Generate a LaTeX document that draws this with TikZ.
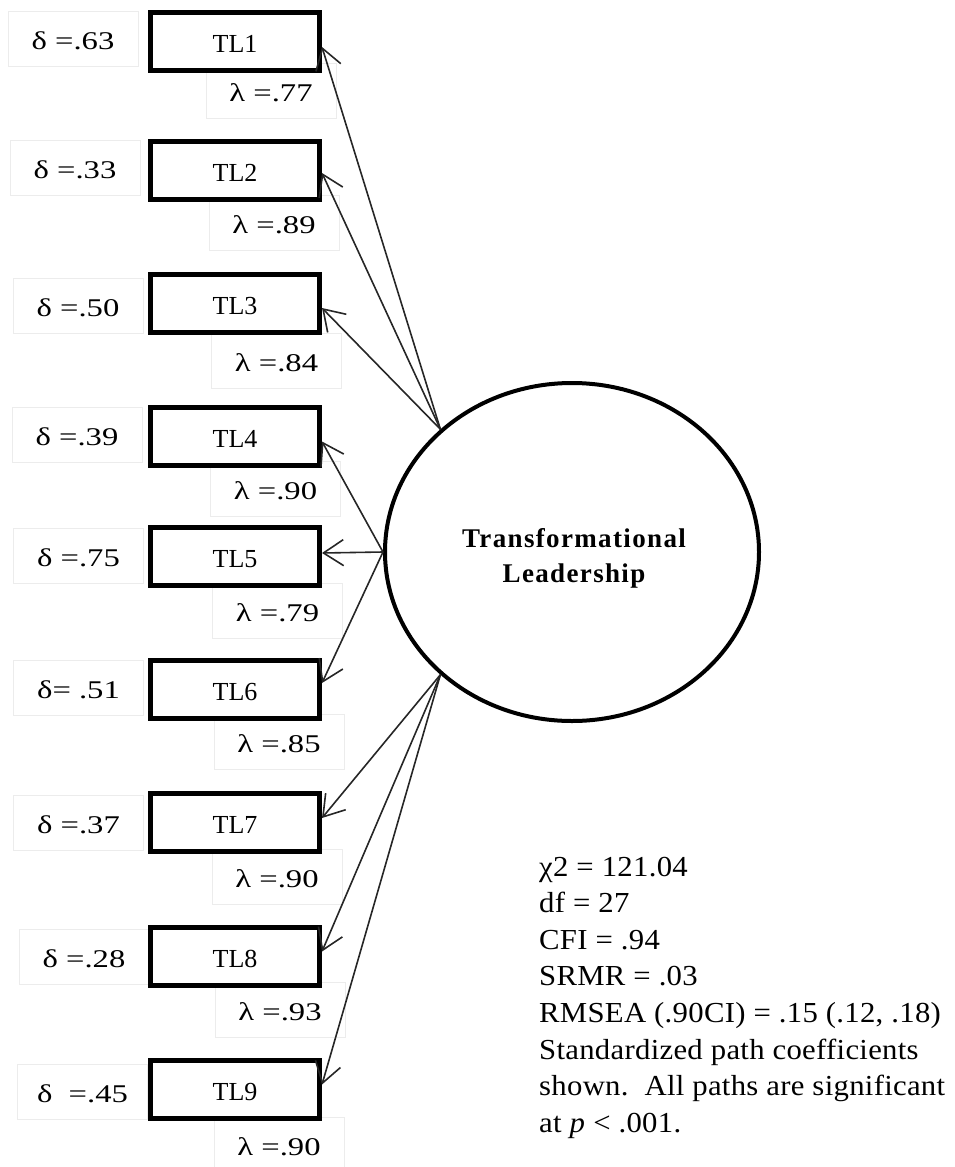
\documentclass[tikz,border=0pt]{standalone}
\usepackage{fontspec}
\setmainfont{Liberation Serif}
\usetikzlibrary{shapes.geometric,arrows.meta}
\begin{document}
\begin{tikzpicture}[x=1pt,y=-1pt,
  indicator/.style={draw, fill=white, line width=5pt, minimum width=169pt, minimum height=58pt,
    inner sep=0pt, text height=22pt, text depth=0pt, font=\fontsize{26}{30}\selectfont},
  coefbox/.style={draw=gray!15, line width=1pt, minimum width=130pt, minimum height=55pt,
    inner sep=0pt, text height=21pt, text depth=0pt,
    font=\fontsize{25.5}{30}\selectfont\addfontfeature{FakeStretch=1.28}},
  latent/.style={ellipse, draw, line width=4pt, minimum width=374pt, minimum height=338pt, inner sep=0pt},
  loading/.style={line width=1.6pt, black!85, -{Straight Barb[length=20pt,width=26pt]}},
  stat/.style={anchor=base west, inner sep=0pt,
    font=\fontsize{29}{36}\selectfont\addfontfeature{FakeStretch=1.06,LetterSpace=1}}
]
\useasboundingbox (0,0) rectangle (955,1167);

% error variances (delta) and loadings (lambda)
\node[coefbox] (d1) at (73,38.5)   {δ =.63};
\node[coefbox] (d2) at (75,168)    {δ =.33};
\node[coefbox] (d3) at (78,305.5)  {δ =.50};
\node[coefbox] (d4) at (77,434.5)  {δ =.39};
\node[coefbox] (d5) at (78.5,556)  {δ =.75};
\node[coefbox] (d6) at (78.5,687.5){δ= .51};
\node[coefbox] (d7) at (78.5,823)  {δ =.37};
\node[coefbox] (d8) at (84,957)    {δ =.28};
\node[coefbox] (d9) at (82.5,1092) {δ \ =.45};

\node[coefbox] (l1) at (271,91)     {λ =.77};
\node[coefbox] (l2) at (274,222.5)  {λ =.89};
\node[coefbox] (l3) at (276.5,360.5){λ =.84};
\node[coefbox] (l4) at (275.5,488.5){λ =.90};
\node[coefbox] (l5) at (277.5,610.5){λ =.79};
\node[coefbox] (l6) at (279,741.5)  {λ =.85};
\node[coefbox] (l7) at (277,876.5)  {λ =.90};
\node[coefbox] (l8) at (280,1009.5) {λ =.93};
\node[coefbox] (l9) at (279,1145)   {λ =.90};

% observed indicators
\node[indicator] (t1) at (235,41)     {TL1};
\node[indicator] (t2) at (235,170)    {TL2};
\node[indicator] (t3) at (235,303)    {TL3};
\node[indicator] (t4) at (235,436.5)  {TL4};
\node[indicator] (t5) at (235,556)    {TL5};
\node[indicator] (t6) at (235,689)    {TL6};
\node[indicator] (t7) at (235,822)    {TL7};
\node[indicator] (t8) at (235,956.5)  {TL8};
\node[indicator] (t9) at (235,1089.5) {TL9};

% latent factor
\node[latent] (lv) at (572,552) {};
\node[align=center, inner sep=0pt,
  font=\fontsize{27}{35}\selectfont\bfseries\addfontfeature{LetterSpace=5}] (lvname) at (574,558)
  {Transformational\\Leadership};

% factor loadings
\draw[loading] (lv.137) -- ([yshift=-6pt]t1.east);
\draw[loading] (lv.137) -- ([yshift=-3pt]t2.east);
\draw[loading] (lv.137) -- ([yshift=-5pt]t3.east);
\draw[loading] (lv.180) -- ([yshift=-5pt]t4.east);
\draw[loading] (lv.180) -- ([yshift=3pt]t5.east);
\draw[loading] (lv.180) -- ([yshift=6pt]t6.east);
\draw[loading] (lv.223) -- ([yshift=4pt]t7.east);
\draw[loading] (lv.223) -- ([yshift=5pt]t8.east);
\draw[loading] (lv.223) -- ([yshift=5pt]t9.east);

% fit statistics
\node[stat] (s1) at (539,876)    {χ2 = 121.04};
\node[stat] (s2) at (539,912.6)  {df = 27};
\node[stat] (s3) at (539,949.2)  {CFI = .94};
\node[stat] (s4) at (539,985.8)  {SRMR = .03};
\node[stat] (s5) at (539,1022.4) {RMSEA (.90CI) = .15 (.12, .18)};
\node[stat] (s6) at (539,1059)   {Standardized path coefficients};
\node[stat] (s7) at (539,1095.6) {shown.\ \ All paths are significant};
\node[stat] (s8) at (539,1132.2) {at \textit{p} < .001.};
\end{tikzpicture}
\end{document}
